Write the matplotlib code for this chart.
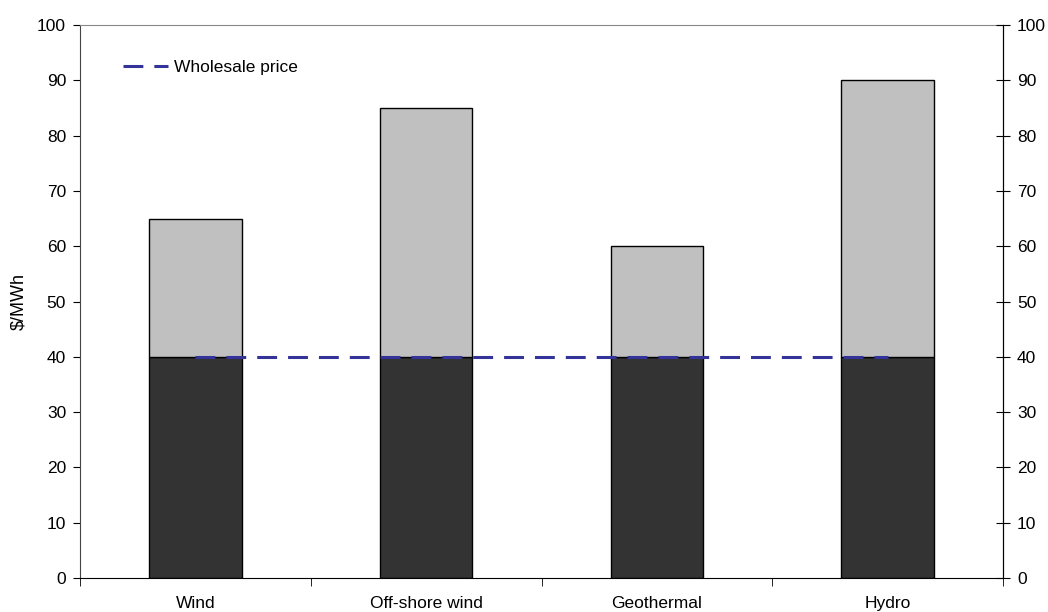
import matplotlib.pyplot as plt
import numpy as np

plt.rcParams['font.family'] = ['Liberation Sans', 'DejaVu Sans']
plt.rcParams['font.size'] = 12.5

categories = ['Wind', 'Off-shore wind', 'Geothermal', 'Hydro']
wholesale = [40, 40, 40, 40]
total_cost = [65, 85, 60, 90]
premium = [t - w for t, w in zip(total_cost, wholesale)]

x = np.arange(len(categories))

fig = plt.figure(figsize=(10.48, 6.12), dpi=100)
ax = fig.add_axes([80 / 1048, 34 / 612, 923 / 1048, 553 / 612])

ax.bar(x, wholesale, width=0.4, color='#333333', edgecolor='black', linewidth=1)
ax.bar(x, premium, bottom=wholesale, width=0.4, color='#c0c0c0',
       edgecolor='black', linewidth=1)
ax.plot(x, wholesale, color='#333399', linewidth=2.2, dashes=(6.5, 3.6),
        label='Wholesale price')

ax.set_xlim(-0.5, len(categories) - 0.5)
ax.set_ylim(0, 100)
ax.set_yticks(range(0, 101, 10))
ax.set_ylabel('$/MWh', fontsize=13)
ax.yaxis.set_label_coords(-0.057, 0.5)

# categories labelled at centres, ticks on the boundaries
ax.set_xticks(x)
ax.set_xticklabels(categories)
ax.tick_params(axis='x', which='major', length=0, pad=13)
ax.set_xticks(np.arange(-0.5, len(categories)), minor=True)
ax.tick_params(axis='x', which='minor', length=6, direction='out', color='black')
ax.tick_params(axis='y', direction='out', length=5, pad=5)

ax2 = ax.twinx()
ax2.set_ylim(0, 100)
ax2.set_yticks(range(0, 101, 10))
ax2.tick_params(axis='y', direction='inout', length=10, pad=5)

ax.spines['top'].set_color('#888888')
ax.spines['left'].set_color('#444444')
ax2.spines['top'].set_visible(False)
ax2.spines['left'].set_visible(False)
ax2.spines['bottom'].set_visible(False)

ax.legend(loc='upper left', bbox_to_anchor=(0.03, 0.966), frameon=False,
          handlelength=2.6, handletextpad=0.3)

fig.savefig('out.png', dpi=100)
